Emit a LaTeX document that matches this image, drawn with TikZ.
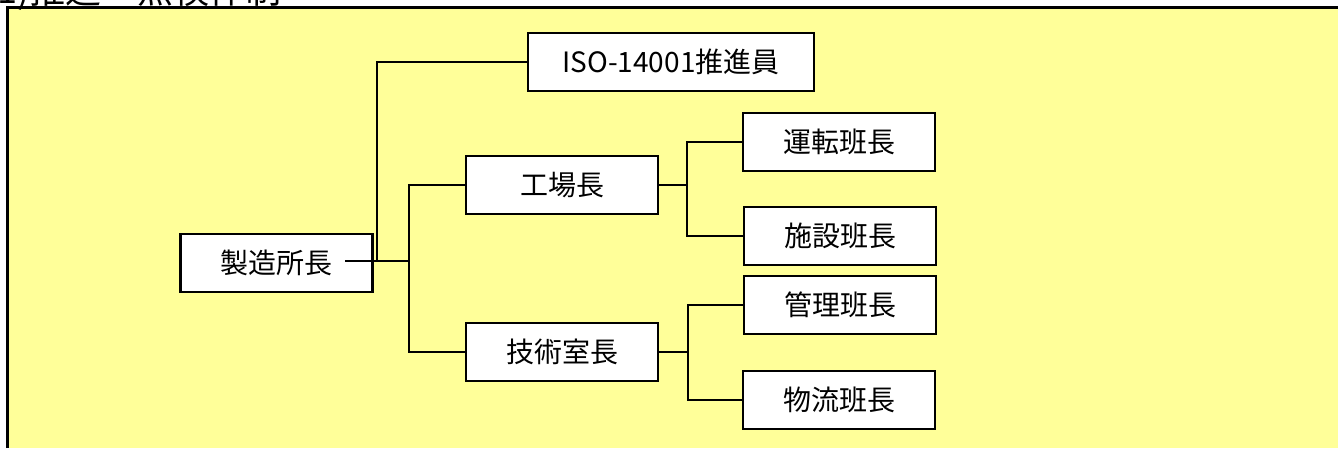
\documentclass[tikz,border=0pt]{standalone}
\usepackage{fontspec}
\setmainfont{Noto Sans CJK JP}
\definecolor{paper}{HTML}{FFFF99}

\begin{document}
\begin{tikzpicture}[x=1pt, y=-1pt, line width=2.8pt,
  box/.style={draw, fill=white, minimum width=192pt, minimum height=58pt,
    inner sep=0pt, font=\fontsize{28}{34}\selectfont}]
  \useasboundingbox (0,0) rectangle (1338,448);
  \clip (0,0) rectangle (1338,448);
  \fill[paper] (7.5,7.5) rectangle (1338,448);
  \draw[line width=3.5pt] (7.5,448) -- (7.5,7.5) -- (1338,7.5);
  \node[anchor=base west, inner sep=0pt, font=\fontsize{36}{40}\selectfont] (t) at (-4,3) {1)推進・点検体制};

  \node[box] (s) at (276.5,263) {製造所長};
  \node[box, minimum width=286pt] (iso) at (671,62) {ISO-14001推進員};
  \node[box] (k) at (562,185) {工場長};
  \node[box] (g) at (562,352) {技術室長};
  \node[box] (u) at (839,142) {運転班長};
  \node[box] (h) at (840,236) {施設班長};
  \node[box] (m) at (840,305) {管理班長};
  \node[box] (b) at (839,400) {物流班長};

 \coordinate (s0) at (345,261);
 \coordinate (j1) at (377,261);
 \coordinate (j2) at (409,261);
 \coordinate (j3) at (687,185);
 \coordinate (j4) at (688,352);
  \draw (s0) -- (j2);
  \draw (iso.west) -| (j1);
  \draw (k.west) -| (j2) |- (g.west);
  \draw (k.east) -- (j3) |- (u.west);
  \draw (j3) |- (h.west);
  \draw (g.east) -- (j4) |- (m.west);
  \draw (j4) |- (b.west);
\end{tikzpicture}
\end{document}
